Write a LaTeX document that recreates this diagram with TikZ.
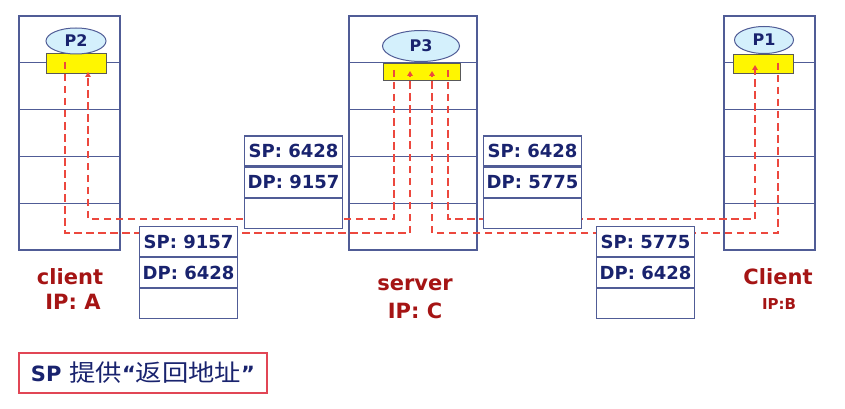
\documentclass[tikz,border=0pt]{standalone}
\usepackage{fontspec}
\setmainfont{DejaVu Sans}
\newfontfamily\cjk[FakeStretch=1.12]{Noto Sans CJK SC}
\usetikzlibrary{positioning, calc, arrows.meta, shapes.geometric}
\definecolor{hostc}{RGB}{80,92,150}
\definecolor{navy}{RGB}{25,35,110}
\definecolor{pktred}{RGB}{236,72,62}
\definecolor{lblred}{RGB}{165,20,20}
\definecolor{bubble}{RGB}{212,240,252}
\definecolor{sockyel}{RGB}{255,246,0}
\definecolor{notered}{RGB}{225,70,85}
\tikzset{x=1pt, y=-1pt,
host/.style={ % One end system with its five layers
draw=hostc, line width=1.1pt, minimum width=#1, minimum height=234pt, inner sep=0pt},
hostline/.style={draw=hostc, line width=1.1pt},
proc/.style={ % Process bubble
ellipse, draw=hostc, line width=1pt, fill=bubble, inner sep=0pt,
text=navy, font=\bfseries\fontsize{16}{18}\selectfont},
sock/.style={draw=black!65, line width=0.9pt, fill=sockyel, inner sep=0pt},
field/.style={ % One row of a segment header
draw=hostc, line width=1.1pt, fill=white, minimum width=98pt, minimum height=30pt,
inner sep=0pt, text=navy, font=\bfseries\fontsize{18}{20}\selectfont},
pkt/.style={ % Path of a segment
draw=pktred, line width=1.8pt, dash pattern=on 7.5pt off 4.5pt},
pktin/.style={pkt, -{Triangle[width=5.5pt,length=5pt]}},
lbl/.style={text=lblred, font=\bfseries\fontsize{21}{24}\selectfont, inner sep=0pt}}
\begin{document}
\begin{tikzpicture}
    \useasboundingbox (0,0) rectangle (845,409);

    % end systems
    \node[host=101pt] (hA) at (69.5,133) {};
    \node[host=128pt] (hS) at (413,133) {};
    \node[host=91pt] (hB) at (769.5,133) {};
    \foreach \h in {hA,hS,hB}
      \foreach \k in {1,...,4}
        \draw[hostline] ($(\h.north west)!\k/5!(\h.south west)$) -- ($(\h.north east)!\k/5!(\h.south east)$);

    % sockets and processes
    \node[sock, minimum width=60pt, minimum height=20pt] (sockA) at (76,63) {};
    \node[sock, minimum width=77pt, minimum height=17pt] (sockS) at (421.5,71.5) {};
    \node[sock, minimum width=60pt, minimum height=19pt] (sockB) at (763,63.5) {};
    \node[proc, minimum width=60pt, minimum height=26pt] (p2) at (76,41) {P2};
    \node[proc, minimum width=77pt, minimum height=31pt] (p3) at (421,46) {P3};
    \node[proc, minimum width=59pt, minimum height=27pt] (p1) at (764,40) {P1};

    % ends of the segment paths
    \coordinate (a1) at ([xshift=-11pt, yshift=1pt]sockA.center);
    \coordinate (a2) at ([xshift=12pt, yshift=-9pt]sockA.center);
    \coordinate (s1) at ([xshift=-27.5pt, yshift=1.5pt]sockS.center);
    \coordinate (s2) at ([xshift=-11.5pt, yshift=0.5pt]sockS.center);
    \coordinate (s3) at ([xshift=10.5pt, yshift=0.5pt]sockS.center);
    \coordinate (s4) at ([xshift=26.5pt, yshift=1.5pt]sockS.center);
    \coordinate (b1) at ([xshift=-8pt, yshift=-1.5pt]sockB.center);
    \coordinate (b2) at ([xshift=15pt, yshift=0.5pt]sockB.center);
    \coordinate (up) at (0,219);
    \coordinate (lo) at (0,233);

    \draw[pktin] (a1) |- (s2 |- lo) -- (s2);
    \draw[pktin] (s1) |- (a2 |- up) -- (a2);
    \draw[pktin] (b2) |- (s3 |- lo) -- (s3);
    \draw[pktin] (s4) |- (b1 |- up) -- (b1);

    % segment headers
    \node[field] (ca1) at (188.5,241.5) {SP: 9157};
    \node[field, below=0pt of ca1] (ca2) {DP: 6428};
    \node[field, below=0pt of ca2] (ca3) {};
    \node[field] (sa1) at (293.5,151) {SP: 6428};
    \node[field, below=0pt of sa1] (sa2) {DP: 9157};
    \node[field, below=0pt of sa2] (sa3) {};
    \node[field] (sb1) at (532.5,151) {SP: 6428};
    \node[field, below=0pt of sb1] (sb2) {DP: 5775};
    \node[field, below=0pt of sb2] (sb3) {};
    \node[field] (cb1) at (645.5,241.5) {SP: 5775};
    \node[field, below=0pt of cb1] (cb2) {DP: 6428};
    \node[field, below=0pt of cb2] (cb3) {};

    % host names
    \node[lbl] (nA) at (70,277) {client};
    \node[lbl] (ipA) at (73,302) {IP: A};
    \node[lbl] (nS) at (415,285) {server};
    \node[lbl] (ipS) at (415,311) {IP: C};
    \node[lbl] (nB) at (778,277) {Client};
    \node[lbl, font=\bfseries\fontsize{15}{18}\selectfont] (ipB) at (779,304) {IP:B};

    % note
    \node[draw=notered, line width=1.2pt, minimum width=248pt, minimum height=40pt,
      text=navy, font=\bfseries\fontsize{21}{24}\selectfont] (note) at (143,373)
      {SP\hspace{8pt}{\cjk\mdseries\fontsize{23.5}{24}\selectfont 提供}“{\cjk\mdseries\fontsize{23.5}{24}\selectfont 返回地址}”};
\end{tikzpicture}
\end{document}
